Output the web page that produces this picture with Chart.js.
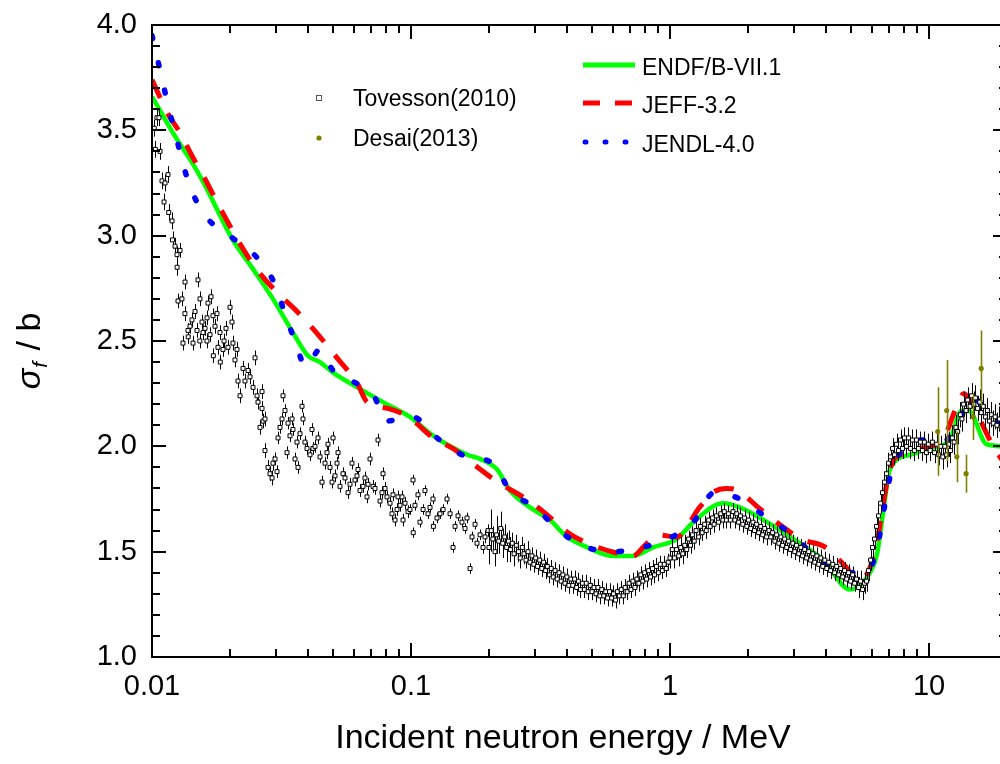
<!DOCTYPE html>
<html>
<head>
<meta charset="utf-8">
<title>Fission cross section</title>
<script src="https://cdn.jsdelivr.net/npm/chart.js@4.4.1/dist/chart.umd.min.js"></script>
<style>
  html, body { margin: 0; padding: 0; background: #fff; overflow: hidden; }
  #wrap { width: 1000px; height: 764px; overflow: hidden; }
  canvas { display: block; }
</style>
</head>
<body>
<div id="wrap"><canvas id="chart" width="1012" height="764"></canvas></div>
<script>
// Axis ticks
const energyTicks = [0.01, 0.1, 1, 10];
const sigmaTicks = [1.0, 1.5, 2.0, 2.5, 3.0, 3.5, 4.0];

// Evaluations
const endfE = [0.01, 0.0123, 0.0144, 0.016, 0.0205, 0.0246, 0.0293, 0.035, 0.04, 0.0445,
  0.05, 0.062, 0.078, 0.099, 0.122, 0.165, 0.185, 0.215, 0.241, 0.288,
  0.344, 0.40, 0.461, 0.602, 0.72, 0.86, 1.06, 1.23, 1.60, 1.86,
  2.37, 2.91, 3.90, 4.95, 5.77, 6.30, 6.64, 7.06, 8.45, 10.1,
  12.0, 13.4, 14.2, 16.7, 20];
const endfS = [3.66, 3.47, 3.34, 3.24, 2.98, 2.84, 2.70, 2.54, 2.43, 2.40,
  2.35, 2.28, 2.21, 2.14, 2.05, 1.96, 1.94, 1.89, 1.79, 1.71,
  1.65, 1.57, 1.53, 1.48, 1.48, 1.52, 1.56, 1.64, 1.73, 1.71,
  1.64, 1.57, 1.46, 1.32, 1.38, 1.49, 1.68, 1.89, 1.96, 1.99,
  2.03, 2.17, 2.17, 2.01, 2.00];

const jeffE = [0.01, 0.0115, 0.0128, 0.0144, 0.016, 0.0178, 0.0197, 0.0224, 0.025, 0.0304,
  0.0363, 0.0445, 0.0518, 0.0619, 0.0677, 0.0815, 0.0975, 0.122, 0.145, 0.181,
  0.216, 0.27, 0.324, 0.404, 0.48, 0.639, 0.72, 0.80, 0.89, 1.06,
  1.30, 1.46, 1.65, 1.83, 2.19, 2.71, 3.2, 3.99, 4.76, 5.3,
  5.8, 6.3, 6.7, 7.1, 8.1, 10.1, 11.3, 12.8, 13.6, 15.2,
  17.7, 20];
const jeffS = [3.74, 3.58, 3.49, 3.37, 3.27, 3.16, 3.06, 2.94, 2.85, 2.73,
  2.64, 2.52, 2.42, 2.30, 2.21, 2.18, 2.14, 2.04, 1.99, 1.90,
  1.83, 1.76, 1.69, 1.59, 1.54, 1.49, 1.48, 1.53, 1.58, 1.57,
  1.71, 1.78, 1.80, 1.79, 1.71, 1.62, 1.56, 1.52, 1.43, 1.37,
  1.40, 1.55, 1.75, 1.90, 1.97, 2.00, 2.03, 2.19, 2.25, 2.16,
  2.00, 1.90];

const jendlE = [0.01, 0.01045, 0.011, 0.01163, 0.0124, 0.01317, 0.01427, 0.01617, 0.0204, 0.0257,
  0.0298, 0.0326, 0.0354, 0.0393, 0.0445, 0.05, 0.0592, 0.0719, 0.08, 0.101,
  0.129, 0.165, 0.207, 0.241, 0.301, 0.382, 0.48, 0.61, 0.78, 0.98,
  1.23, 1.48, 1.86, 2.37, 3.04, 3.8, 4.81, 5.77, 6.3, 7.2,
  9.6, 11.3, 12.8, 14.7, 17.7, 20];
const jendlS = [3.95, 3.85, 3.73, 3.60, 3.47, 3.34, 3.21, 3.09, 2.99, 2.89,
  2.77, 2.63, 2.51, 2.38, 2.46, 2.36, 2.31, 2.24, 2.12, 2.14,
  2.03, 1.95, 1.92, 1.79, 1.71, 1.59, 1.52, 1.50, 1.52, 1.56,
  1.64, 1.78, 1.75, 1.66, 1.57, 1.45, 1.40, 1.40, 1.52, 1.89,
  2.03, 2.02, 2.10, 2.23, 2.13, 2.10];

// Desai(2013): energy, sigma, uncertainty
const desaiE = [10.8, 11.7, 12.8, 13.9, 14.8, 15.9];
const desaiS = [2.07, 2.17, 1.95, 1.87, 2.14, 2.37];
const desaiErr = [0.21, 0.24, 0.12, 0.09, 0.11, 0.18];

// Tovesson(2010): [energy, sigma, uncertainty], below 0.2 MeV
const tovessonLow = [
  [0.0102,3.51,.04],[0.0103,3.41,.04],[0.01045,3.56,.04],[0.01064,3.56,.04],[0.01074,3.40,.04],
  [0.01093,3.26,.04],[0.01113,3.16,.04],[0.01123,3.25,.04],[0.01153,3.29,.04],[0.0116,3.11,.04],
  [0.01195,3.07,.04],[0.0120,2.98,.04],[0.01227,2.95,.04],[0.01249,2.91,.04],[0.0125,2.85,.04],
  [0.0126,2.69,.035],[0.01283,2.93,.035],[0.01305,2.70,.035],[0.01317,2.49,.035],[0.01341,2.78,.035],
  [0.0134,2.63,.035],[0.01377,2.55,.035],[0.0138,2.52,.035],[0.01402,2.57,.035],[0.01427,2.60,.035],
  [0.0144,2.49,.035],[0.01466,2.64,.035],[0.01492,2.55,.035],[0.01505,2.79,.035],[0.01532,2.70,.035],
  [0.0153,2.50,.035],[0.0156,2.59,.035],[0.01574,2.54,.035],[0.01602,2.56,.035],[0.01631,2.61,.035],
  [0.0163,2.50,.035],[0.01645,2.68,.035],[0.01675,2.53,.035],[0.0169,2.71,.035],[0.0172,2.62,.035],
  [0.01725,2.43,.035],[0.01751,2.57,.035],[0.01782,2.63,.035],[0.01798,2.47,.035],[0.0183,2.54,.035],
  [0.01835,2.40,.035],[0.0188,2.46,.035],[0.01897,2.50,.035],[0.01931,2.56,.035],[0.01965,2.47,.035],
  [0.02001,2.66,.035],[0.02036,2.59,.035],[0.02054,2.49,.035],[0.02091,2.41,.035],[0.02129,2.46,.035],
  [0.02148,2.31,.035],[0.02187,2.24,.035],[0.02246,2.37,.035],[0.02286,2.31,.035],[0.02348,2.36,.035],
  [0.0239,2.33,.035],[0.02455,2.28,.035],[0.02499,2.42,.035],[0.02544,2.24,.035],[0.02566,2.21,.035],
  [0.02612,2.09,.035],[0.02659,2.18,.035],[0.0266,2.26,.035],[0.02683,2.12,.035],[0.02731,2.13,.035],
  [0.0273,1.98,.035],[0.02805,1.90,.035],[0.02855,1.87,.035],[0.02907,1.85,.035],[0.02932,1.92,.035],
  [0.02985,1.94,.03],[0.03039,1.88,.03],[0.03066,2.04,.03],[0.0312,2.09,.03],[0.03177,2.13,.03],
  [0.03205,2.24,.03],[0.03262,2.17,.03],[0.03321,1.97,.03],[0.03351,2.11,.03],[0.0341,2.05,.03],
  [0.03472,2.13,.03],[0.03502,2.08,.03],[0.03566,1.94,.03],[0.03629,2.02,.03],[0.03663,1.90,.03],
  [0.03727,2.06,.03],[0.03795,2.19,.03],[0.03828,2.13,.03],[0.03897,2.02,.03],[0.03967,1.99,.03],
  [0.04074,1.96,.03],[0.04147,2.08,.03],[0.04184,1.99,.03],[0.04259,2.00,.03],[0.04375,2.04,.03],
  [0.04453,1.95,.03],[0.04533,1.83,.03],[0.04656,1.92,.03],[0.04739,1.97,.03],[0.04781,2.01,.03],
  [0.04867,1.90,.03],[0.04955,1.83,.03],[0.05,2.04,.03],[0.05089,1.86,.03],[0.0518,1.92,.03],
  [0.05226,1.97,.03],[0.0532,1.81,.03],[0.05464,1.87,.03],[0.05562,1.85,.03],[0.05712,1.78,.03],
  [0.05814,1.82,.03],[0.05918,1.92,.03],[0.06078,1.84,.03],[0.06186,1.86,.03],[0.06243,1.89,.03],
  [0.06353,1.79,.03],[0.06527,1.81,.03],[0.06642,1.85,.03],[0.06763,1.76,.03],[0.06823,1.82,.03],
  [0.06946,1.94,.03],[0.07134,1.81,.03],[0.07261,1.80,.03],[0.07458,2.03,.03],[0.07592,1.74,.03],
  [0.07727,1.78,.03],[0.07796,1.87,.03],[0.07937,1.80,.03],[0.08078,1.76,.03],[0.08297,1.73,.03],
  [0.08445,1.68,.03],[0.08521,1.77,.03],[0.08675,1.65,.03],[0.08829,1.70,.03],[0.08909,1.76,.03],
  [0.09068,1.72,.03],[0.09233,1.76,.03],[0.09314,1.65,.03],[0.0948,1.73,.03],[0.09736,1.69,.03],
  [0.0991,1.70,.025],[0.1018,1.84,.025],[0.102,1.59,.025],[0.1036,1.72,.025],[0.1064,1.77,.025],
  [0.1083,1.64,.025],[0.1113,1.70,.025],[0.1132,1.79,.025],[0.1163,1.68,.025],[0.1184,1.71,.025],
  [0.1216,1.75,.025],[0.122,1.62,.025],[0.126,1.66,.025],[0.1294,1.68,.025],[0.133,1.70,.025],
  [0.1377,1.75,.025],[0.1415,1.68,.025],[0.1453,1.52,.025],[0.1479,1.62,.025],[0.1519,1.67,.025],
  [0.1573,1.64,.025],[0.1616,1.61,.025],[0.1645,1.66,.025],[0.169,1.42,.025],[0.172,1.57,.025],
  [0.1767,1.63,.025],[0.1798,1.54,.025],[0.1847,1.58,.025],[0.1897,1.52,.03],[0.1931,1.57,.03],
  [0.1983,1.60,.03]
];

// Tovesson(2010): [energy, sigma, uncertainty], 0.2 to 20 MeV
const tovessonHigh = [
  [0.200,1.52,.08],[0.204,1.60,.10],[0.207,1.56,.06],[0.211,1.50,.07],[0.214,1.58,.09],
  [0.218,1.55,.06],[0.222,1.61,.08],[0.226,1.54,.07],[0.230,1.57,.06],[0.234,1.52,.07],
  [0.238,1.55,.05],[0.242,1.51,.06],[0.246,1.54,.05],[0.250,1.49,.06],[0.255,1.53,.05],
  [0.260,1.50,.05],[0.264,1.47,.05],[0.269,1.52,.05],[0.273,1.49,.05],[0.278,1.46,.04],
  [0.283,1.50,.05],[0.288,1.45,.04],[0.293,1.48,.04],[0.298,1.44,.04],[0.303,1.47,.04],
  [0.308,1.43,.04],[0.314,1.46,.04],[0.320,1.42,.04],[0.325,1.45,.04],[0.331,1.41,.04],
  [0.336,1.43,.04],[0.342,1.39,.04],[0.348,1.42,.04],[0.354,1.38,.04],[0.360,1.41,.04],
  [0.367,1.37,.04],[0.373,1.40,.04],[0.380,1.36,.04],[0.386,1.39,.04],[0.393,1.35,.04],
  [0.400,1.38,.04],[0.407,1.34,.04],[0.414,1.37,.04],[0.421,1.34,.04],[0.428,1.37,.04],
  [0.436,1.33,.04],[0.443,1.36,.04],[0.451,1.32,.04],[0.459,1.35,.04],[0.467,1.32,.04],
  [0.475,1.35,.04],[0.483,1.31,.04],[0.492,1.34,.04],[0.500,1.31,.04],[0.509,1.33,.04],
  [0.518,1.30,.04],[0.527,1.33,.04],[0.536,1.29,.04],[0.545,1.32,.04],[0.555,1.29,.04],
  [0.565,1.31,.04],[0.574,1.28,.04],[0.584,1.31,.04],[0.595,1.28,.04],[0.605,1.30,.04],
  [0.616,1.27,.04],[0.626,1.31,.04],[0.637,1.29,.04],[0.648,1.32,.04],[0.660,1.29,.04],
  [0.671,1.33,.04],[0.683,1.31,.04],[0.695,1.35,.04],[0.707,1.32,.04],[0.719,1.36,.04],
  [0.732,1.33,.04],[0.745,1.37,.04],[0.758,1.35,.04],[0.771,1.39,.04],[0.785,1.36,.04],
  [0.798,1.40,.04],[0.812,1.37,.04],[0.827,1.41,.04],[0.841,1.38,.04],[0.856,1.42,.04],
  [0.871,1.39,.04],[0.886,1.43,.04],[0.902,1.40,.04],[0.918,1.44,.04],[0.934,1.41,.04],
  [0.950,1.44,.04],[0.967,1.42,.04],[0.984,1.45,.04],[1.00,1.47,.05],[1.02,1.51,.05],
  [1.04,1.47,.05],[1.06,1.51,.05],[1.08,1.48,.05],[1.10,1.52,.05],[1.12,1.49,.05],
  [1.14,1.53,.05],[1.16,1.51,.04],[1.18,1.56,.04],[1.20,1.53,.04],[1.22,1.58,.04],
  [1.24,1.55,.04],[1.26,1.60,.04],[1.29,1.57,.04],[1.31,1.62,.04],[1.33,1.59,.04],
  [1.36,1.63,.04],[1.38,1.60,.04],[1.41,1.65,.04],[1.43,1.62,.04],[1.46,1.66,.04],
  [1.48,1.63,.04],[1.51,1.67,.04],[1.54,1.64,.04],[1.57,1.68,.04],[1.60,1.65,.04],
  [1.62,1.69,.04],[1.65,1.65,.04],[1.68,1.68,.04],[1.71,1.65,.04],[1.75,1.69,.04],
  [1.78,1.65,.04],[1.81,1.68,.04],[1.84,1.64,.04],[1.87,1.67,.04],[1.91,1.63,.04],
  [1.94,1.66,.04],[1.98,1.62,.04],[2.01,1.65,.04],[2.05,1.61,.04],[2.09,1.64,.04],
  [2.12,1.60,.04],[2.16,1.63,.04],[2.20,1.59,.04],[2.24,1.62,.04],[2.28,1.58,.04],
  [2.32,1.61,.04],[2.36,1.57,.04],[2.41,1.60,.04],[2.45,1.57,.04],[2.49,1.59,.04],
  [2.54,1.55,.04],[2.58,1.58,.04],[2.63,1.54,.04],[2.68,1.57,.04],[2.72,1.53,.04],
  [2.77,1.56,.04],[2.82,1.52,.04],[2.87,1.55,.04],[2.92,1.51,.04],[2.98,1.54,.04],
  [3.03,1.50,.04],[3.08,1.53,.04],[3.14,1.49,.04],[3.20,1.52,.04],[3.25,1.48,.04],
  [3.31,1.51,.04],[3.37,1.47,.04],[3.43,1.50,.04],[3.49,1.46,.04],[3.56,1.49,.04],
  [3.62,1.45,.04],[3.69,1.48,.04],[3.75,1.44,.04],[3.82,1.47,.04],[3.89,1.43,.04],
  [3.96,1.46,.04],[4.03,1.42,.04],[4.10,1.45,.04],[4.17,1.41,.04],[4.25,1.44,.04],
  [4.32,1.40,.04],[4.40,1.43,.04],[4.48,1.39,.04],[4.56,1.42,.04],[4.64,1.38,.04],
  [4.72,1.41,.04],[4.81,1.37,.04],[4.89,1.40,.04],[4.98,1.36,.04],[5.07,1.39,.04],
  [5.16,1.35,.04],[5.25,1.37,.04],[5.35,1.33,.05],[5.44,1.36,.05],[5.54,1.32,.05],
  [5.64,1.35,.05],[5.74,1.36,.05],[5.84,1.41,.05],[5.95,1.46,.05],[6.05,1.52,.05],
  [6.16,1.56,.05],[6.27,1.62,.05],[6.38,1.67,.05],[6.50,1.73,.05],[6.61,1.78,.05],
  [6.73,1.83,.05],[6.85,1.87,.05],[6.97,1.92,.05],[7.10,1.95,.05],[7.23,1.99,.05],
  [7.35,1.96,.05],[7.49,2.01,.05],[7.62,1.98,.05],[7.76,2.03,.05],[7.90,1.99,.05],
  [8.04,2.04,.05],[8.18,2.00,.05],[8.33,2.04,.05],[8.48,1.99,.05],[8.63,2.03,.05],
  [8.78,1.98,.05],[8.94,2.03,.05],[9.10,1.99,.05],[9.26,2.02,.05],[9.43,1.98,.05],
  [9.60,2.02,.05],[9.77,1.97,.05],[9.94,2.01,.05],[10.1,1.98,.05],[10.3,2.02,.05],
  [10.5,1.97,.05],[10.7,2.01,.05],[10.9,1.96,.05],[11.1,2.00,.05],[11.3,1.95,.06],
  [11.5,2.00,.06],[11.7,1.96,.06],[11.9,2.01,.06],[12.1,1.98,.06],[12.3,2.04,.06],
  [12.5,2.02,.06],[12.7,2.09,.06],[12.9,2.07,.06],[13.2,2.15,.06],[13.4,2.13,.06],
  [13.6,2.20,.06],[13.9,2.17,.06],[14.1,2.22,.06],[14.4,2.19,.06],[14.6,2.24,.06],
  [14.9,2.20,.06],[15.1,2.23,.06],[15.4,2.18,.06],[15.7,2.21,.06],[15.9,2.16,.06],
  [16.2,2.19,.06],[16.5,2.14,.06],[16.8,2.17,.06],[17.1,2.12,.06],[17.4,2.15,.06],
  [17.7,2.11,.06],[18.0,2.14,.06],[18.3,2.10,.06],[18.7,2.13,.06],[19.0,2.09,.06],
  [19.4,2.12,.06],[19.7,2.09,.06]
];

const FONT = '"Liberation Sans", Arial, sans-serif';
const OLIVE = '#808000';
Chart.defaults.font.family = FONT;
Chart.defaults.color = '#000';

const toPoints = (xs, ys) => xs.map((e, i) => ({ x: e, y: ys[i] }));

// vertical error bars under the scatter markers
const errorBars = {
  id: 'errorBars',
  beforeDatasetDraw(chart, args) {
    const ds = chart.data.datasets[args.index];
    if (!ds.errColor) return;
    const { ctx, chartArea: a, scales: { x, y } } = chart;
    ctx.save();
    ctx.beginPath();
    ctx.rect(a.left, a.top, a.right - a.left, a.bottom - a.top);
    ctx.clip();
    ctx.strokeStyle = ds.errColor;
    ctx.lineWidth = ds.errWidth;
    ctx.beginPath();
    ds.data.forEach(p => {
      const px = Math.round(x.getPixelForValue(p.x)) + 0.5;
      ctx.moveTo(px, y.getPixelForValue(p.y - p.e));
      ctx.lineTo(px, y.getPixelForValue(p.y + p.e));
    });
    ctx.stroke();
    ctx.restore();
  }
};

// box frame, inward ticks, legend and axis titles
const frameAndLegend = {
  id: 'frameAndLegend',
  afterDraw(chart) {
    const { ctx, chartArea: a, scales: { x, y } } = chart;
    ctx.save();
    ctx.strokeStyle = '#000';
    ctx.lineWidth = 2;
    ctx.strokeRect(a.left, a.top, a.right - a.left, a.bottom - a.top);

    ctx.beginPath();
    for (let k = 10; k <= 40; k++) {
      const py = Math.round(y.getPixelForValue(k / 10));
      const len = k % 5 === 0 ? 14 : 8;
      ctx.moveTo(a.left, py); ctx.lineTo(a.left + len, py);
      ctx.moveTo(a.right, py); ctx.lineTo(a.right - len, py);
    }
    energyTicks.forEach(d => {
      for (let m = 1; m <= 9; m++) {
        const v = d * m;
        if (v > 20) break;
        const px = Math.round(x.getPixelForValue(v));
        const len = m === 1 ? 14 : 8;
        ctx.moveTo(px, a.bottom); ctx.lineTo(px, a.bottom - len);
        ctx.moveTo(px, a.top); ctx.lineTo(px, a.top + len);
      }
    });
    ctx.stroke();

    // legend, left block
    ctx.fillStyle = '#000';
    ctx.font = '23px ' + FONT;
    ctx.textAlign = 'left';
    ctx.textBaseline = 'alphabetic';
    ctx.lineWidth = 1;
    ctx.strokeStyle = '#555';
    ctx.strokeRect(316.5, 95.5, 5, 5);
    ctx.fillText('Tovesson(2010)', 353, 106);
    ctx.fillStyle = OLIVE;
    ctx.beginPath(); ctx.arc(319, 138, 2.6, 0, Math.PI * 2); ctx.fill();
    ctx.fillStyle = '#000';
    ctx.fillText('Desai(2013)', 353, 146);

    // legend, right block
    ctx.lineWidth = 5;
    ctx.strokeStyle = '#00ff00';
    ctx.beginPath(); ctx.moveTo(583, 65); ctx.lineTo(635, 65); ctx.stroke();
    ctx.strokeStyle = '#ff0000';
    ctx.setLineDash([17, 15]);
    ctx.beginPath(); ctx.moveTo(583, 103); ctx.lineTo(635, 103); ctx.stroke();
    ctx.strokeStyle = '#0000ff';
    ctx.lineCap = 'round';
    ctx.setLineDash([1, 19]);
    ctx.beginPath(); ctx.moveTo(585, 142); ctx.lineTo(630, 142); ctx.stroke();
    ctx.setLineDash([]);
    ctx.lineCap = 'butt';
    ctx.fillText('ENDF/B-VII.1', 642, 75);
    ctx.fillText('JEFF-3.2', 642, 113);
    ctx.fillText('JENDL-4.0', 642, 152);

    // x title
    ctx.font = '34px ' + FONT;
    ctx.textAlign = 'center';
    ctx.fillText('Incident neutron energy / MeV', 563, 748);

    // y title: sigma_f / b
    ctx.translate(40, 351);
    ctx.rotate(-Math.PI / 2);
    ctx.textAlign = 'left';
    const big = 'italic 34px ' + FONT, sub = 'italic 21px ' + FONT, reg = '34px ' + FONT;
    ctx.font = big; const w1 = ctx.measureText('σ').width;
    ctx.font = sub; const w2 = ctx.measureText('f').width + 3;
    ctx.font = reg; const w3 = ctx.measureText(' / b').width;
    let tx = -(w1 + w2 + w3) / 2;
    ctx.font = big; ctx.fillText('σ', tx, 0); tx += w1;
    ctx.font = sub; ctx.fillText('f', tx + 1, 7); tx += w2;
    ctx.font = reg; ctx.fillText(' / b', tx, 0);
    ctx.restore();
  }
};

new Chart(document.getElementById('chart'), {
  type: 'line',
  data: {
    datasets: [
      {
        label: 'Desai(2013)',
        type: 'scatter',
        data: desaiE.map((e, i) => ({ x: e, y: desaiS[i], e: desaiErr[i] })),
        pointStyle: 'circle',
        pointRadius: 2.6,
        backgroundColor: OLIVE,
        borderColor: OLIVE,
        borderWidth: 0,
        errColor: OLIVE,
        errWidth: 1.6
      },
      {
        label: 'Tovesson(2010)',
        type: 'scatter',
        data: tovessonLow.concat(tovessonHigh).map(r => ({ x: r[0], y: r[1], e: r[2] })),
        pointStyle: 'rect',
        pointRadius: 2.8,
        backgroundColor: '#fff',
        borderColor: '#000',
        borderWidth: 1,
        errColor: '#000',
        errWidth: 1
      },
      {
        label: 'JENDL-4.0',
        data: toPoints(jendlE, jendlS),
        borderColor: '#0000ff',
        borderWidth: 5.5,
        borderDash: [3, 25],
        borderCapStyle: 'round',
        cubicInterpolationMode: 'monotone',
        pointRadius: 0,
        fill: false
      },
      {
        label: 'JEFF-3.2',
        data: toPoints(jeffE, jeffS),
        borderColor: '#ff0000',
        borderWidth: 5,
        borderDash: [20, 17],
        cubicInterpolationMode: 'monotone',
        pointRadius: 0,
        fill: false
      },
      {
        label: 'ENDF/B-VII.1',
        data: toPoints(endfE, endfS),
        borderColor: '#00ff00',
        borderWidth: 4.5,
        cubicInterpolationMode: 'monotone',
        pointRadius: 0,
        fill: false
      }
    ]
  },
  options: {
    responsive: false,
    animation: false,
    layout: { padding: { top: 25, right: 5, left: 0, bottom: 0 } },
    plugins: { legend: { display: false }, tooltip: { enabled: false } },
    scales: {
      x: {
        type: 'logarithmic',
        min: 0.01,
        max: 20,
        afterBuildTicks: s => { s.ticks = energyTicks.map(v => ({ value: v })); },
        afterFit: s => { s.height = 107; s.paddingLeft = 0; s.paddingRight = 0; },
        grid: { display: false, drawTicks: false },
        border: { display: false },
        ticks: { font: { size: 29 }, padding: 13, maxRotation: 0, autoSkip: false, callback: v => String(v) }
      },
      y: {
        type: 'linear',
        min: 1,
        max: 4,
        afterBuildTicks: s => { s.ticks = sigmaTicks.map(v => ({ value: v })); },
        afterFit: s => { s.width = 152; s.paddingTop = 0; s.paddingBottom = 0; },
        grid: { display: false, drawTicks: false },
        border: { display: false },
        ticks: { font: { size: 29 }, padding: 15, callback: v => Number(v).toFixed(1) }
      }
    }
  },
  plugins: [errorBars, frameAndLegend]
});
</script>
</body>
</html>
